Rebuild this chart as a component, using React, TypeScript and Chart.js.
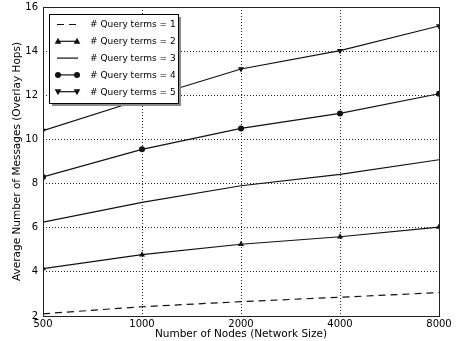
import React, { useEffect, useRef } from "react";
import { Chart, registerables } from "chart.js";

Chart.register(...registerables);

const nodeCounts = ["500", "1000", "2000", "4000", "8000"];
const yTicks = [2, 4, 6, 8, 10, 12, 14, 16];
const seriesLabels = [
  "# Query terms = 1",
  "# Query terms = 2",
  "# Query terms = 3",
  "# Query terms = 4",
  "# Query terms = 5",
];
const terms1 = [2.1, 2.42, 2.65, 2.85, 3.06];
const terms2 = [4.15, 4.78, 5.25, 5.59, 6.03];
const terms3 = [6.25, 7.15, 7.9, 8.42, 9.08];
const terms4 = [8.3, 9.55, 10.5, 11.18, 12.07];
const terms5 = [10.4, 11.82, 13.19, 14.02, 15.14];
const xTitle = "Number of Nodes (Network Size)";
const yTitle = "Average Number of Messages (Overlay Hops)";

const FONT = "'DejaVu Sans', sans-serif";
const INK = "#111";

type Marker = "none" | "triUp" | "circle" | "triDown";
const markers: Marker[] = ["none", "triUp", "none", "circle", "triDown"];
const dashes: number[][] = [[7, 5], [], [], [], []];

function drawMarker(ctx: CanvasRenderingContext2D, m: Marker, x: number, y: number) {
  ctx.save();
  ctx.fillStyle = INK;
  ctx.beginPath();
  if (m === "circle") {
    ctx.arc(x, y, 3, 0, Math.PI * 2);
  } else if (m === "triUp") {
    ctx.moveTo(x, y - 3.5);
    ctx.lineTo(x + 3.3, y + 2.5);
    ctx.lineTo(x - 3.3, y + 2.5);
    ctx.closePath();
  } else if (m === "triDown") {
    ctx.moveTo(x, y + 3.5);
    ctx.lineTo(x + 3.3, y - 2.5);
    ctx.lineTo(x - 3.3, y - 2.5);
    ctx.closePath();
  }
  ctx.fill();
  ctx.restore();
}

const overlayPlugin = {
  id: "overlay",
  afterDraw(chart: any) {
    const ctx: CanvasRenderingContext2D = chart.ctx;
    const a = chart.chartArea;
    ctx.save();
    // frame
    ctx.strokeStyle = "#222";
    ctx.lineWidth = 1;
    ctx.setLineDash([]);
    ctx.strokeRect(Math.round(a.left) + 0.5, Math.round(a.top) + 0.5, Math.round(a.right - a.left), Math.round(a.bottom - a.top));

    // axis titles
    ctx.fillStyle = "#000";
    ctx.font = `10.5px ${FONT}`;
    ctx.textAlign = "center";
    ctx.textBaseline = "middle";
    ctx.fillText(xTitle, (a.left + a.right) / 2, 334.5);
    ctx.save();
    ctx.translate(17, (a.top + a.bottom) / 2);
    ctx.rotate(-Math.PI / 2);
    ctx.fillText(yTitle, 0, 0);
    ctx.restore();

    // legend
    const bx = 49, by = 14, bw = 129, bh = 89;
    ctx.fillStyle = "#8a8a8a";
    ctx.fillRect(bx + 3, by + 3, bw, bh);
    ctx.fillStyle = "#fff";
    ctx.fillRect(bx, by, bw, bh);
    ctx.strokeStyle = "#000";
    ctx.strokeRect(bx + 0.5, by + 0.5, bw, bh);
    ctx.font = `9px ${FONT}`;
    ctx.textAlign = "left";
    ctx.textBaseline = "middle";
    for (let i = 0; i < seriesLabels.length; i++) {
      const y = 24.5 + i * 16.8;
      ctx.strokeStyle = INK;
      ctx.lineWidth = 1.2;
      ctx.setLineDash(dashes[i]);
      ctx.beginPath();
      ctx.moveTo(57, y);
      ctx.lineTo(78, y);
      ctx.stroke();
      ctx.setLineDash([]);
      if (markers[i] !== "none") {
        drawMarker(ctx, markers[i], 58, y);
        drawMarker(ctx, markers[i], 77, y);
      }
      ctx.fillStyle = "#000";
      ctx.fillText(seriesLabels[i], 90, y + 0.5);
    }
    ctx.restore();
  },
};

export default function App() {
  const ref = useRef<HTMLCanvasElement | null>(null);
  useEffect(() => {
    if (!ref.current) return;
    const seriesData = [terms1, terms2, terms3, terms4, terms5];
    const styleOf = (m: Marker) =>
      m === "circle"
        ? { pointStyle: "circle", pointRadius: 3, pointRotation: 0 }
        : m === "triUp"
        ? { pointStyle: "triangle", pointRadius: 3.5, pointRotation: 0 }
        : m === "triDown"
        ? { pointStyle: "triangle", pointRadius: 3.5, pointRotation: 180 }
        : { pointStyle: "circle", pointRadius: 0, pointRotation: 0 };
    const chart = new Chart(ref.current, {
      type: "line",
      data: {
        labels: nodeCounts,
        datasets: seriesData.map((d, i) => ({
          label: seriesLabels[i],
          data: d,
          borderColor: INK,
          backgroundColor: INK,
          pointBackgroundColor: INK,
          pointBorderColor: INK,
          pointBorderWidth: 0,
          borderWidth: 1.2,
          borderDash: dashes[i],
          tension: 0,
          clip: 0,
          ...styleOf(markers[i]),
        })) as any,
      },
      options: {
        responsive: false,
        animation: false,
        devicePixelRatio: 1,
        layout: { padding: { left: 0, top: 7, right: 17, bottom: 0 } },
        plugins: { legend: { display: false }, tooltip: { enabled: false } },
        scales: {
          x: {
            type: "category",
            offset: false,
            afterFit: (s: any) => {
              s.height = 25;
              s.paddingLeft = 0;
              s.paddingRight = 0;
            },
            grid: { color: "rgba(0,0,0,0.85)", lineWidth: 1, drawTicks: false, offset: false },
            border: { display: false, dash: [1, 2] },
            ticks: {
              color: "#000",
              font: { family: FONT, size: 10 },
              padding: 2,
              autoSkip: false,
              maxRotation: 0,
            },
          },
          y: {
            type: "linear",
            min: yTicks[0],
            max: yTicks[yTicks.length - 1],
            afterFit: (s: any) => {
              s.width = 43;
              s.paddingTop = 0;
              s.paddingBottom = 0;
            },
            afterBuildTicks: (s: any) => { s.ticks = yTicks.map((v) => ({ value: v })); },
            grid: { color: "rgba(0,0,0,0.85)", lineWidth: 1, drawTicks: false },
            border: { display: false, dash: [1, 2] },
            ticks: {
              color: "#000",
              font: { family: FONT, size: 10 },
              padding: 5,
            },
          },
        },
      },
      plugins: [overlayPlugin],
    });
    return () => chart.destroy();
  }, []);
  return (
    <div style={{ position: "fixed", left: 0, top: 0, width: 456, height: 341, background: "#fff" }}>
      <canvas ref={ref} width={456} height={341} style={{ display: "block" }} />
    </div>
  );
}
